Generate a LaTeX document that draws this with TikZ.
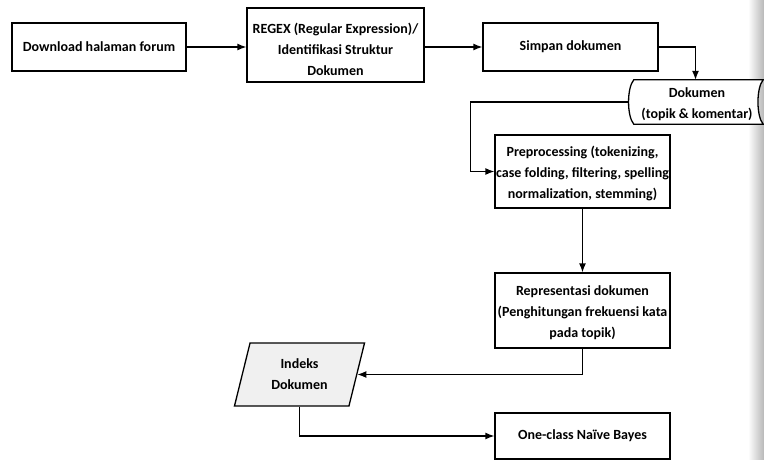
\documentclass[tikz,border=0pt]{standalone}
\usepackage{fontspec}
\setmainfont{Carlito}
\usetikzlibrary{arrows.meta,shapes.geometric,calc}
% a taller first line pushes a centred text block downwards
\newcommand\dropby[1]{\rule{0pt}{#1}}
\begin{document}
\begin{tikzpicture}[x=1pt,y=-1pt,
  every node/.style={font=\bfseries\fontsize{14}{21}\selectfont, align=center, inner sep=0pt},
  procbox/.style={draw, line width=1.3pt, minimum width=175pt},
  flow/.style={line width=1.3pt, -{Latex[length=9pt,width=7pt]}},
  plain/.style={line width=1.3pt}]
\useasboundingbox (0,0) rectangle (764,460);
\fill[white] (0,0) rectangle (764,460);
% scanned page edge on the right
\shade[left color=white, right color=black!28] (748,0) rectangle (764,460);

% process boxes
\node[procbox, minimum width=174pt, minimum height=48pt] (dl) at (99,47) {Download halaman forum};
\node[procbox, minimum width=177pt, minimum height=74pt] (rx) at (335.5,45) {\dropby{18.5pt}REGEX (Regular Expression)/\\Identifikasi Struktur\\Dokumen};
\node[procbox, minimum width=175pt, minimum height=48pt] (sp) at (570.5,47) {Simpan dokumen};
\node[procbox, minimum height=73pt] (pp) at (582.5,171.5) {\dropby{14pt}Preprocessing (tokenizing,\\case folding, filtering, spelling\\normalization, stemming)};
\node[procbox, minimum height=75pt] (rp) at (582.5,310.5) {\dropby{15pt}Representasi dokumen\\(Penghitungan frekuensi kata\\pada topik)};
\node[procbox, minimum height=46pt] (nb) at (582.5,436) {One-class Na\"ive Bayes};

% stored data
\node[minimum width=135pt, minimum height=44pt] (dk) at (695.5,102) {};
\draw[plain, fill=white] ($(dk.north west)+(6,0)$) .. controls ($(dk.north west)+(-1,8)$) and ($(dk.south west)+(-1,-8)$) .. ($(dk.south west)+(6,0)$)
  -- (dk.south east) .. controls ($(dk.south east)+(-7,-8)$) and ($(dk.north east)+(-7,8)$) .. (dk.north east) -- cycle;
\node (dktext) at ($(dk.center)+(1.5,0)$) {\dropby{15pt}Dokumen\\(topik \& komentar)};
\coordinate (dkl) at ($(dk.west)+(0.5,0)$);

% data (parallelogram)
\node[trapezium, trapezium left angle=74, trapezium right angle=106, trapezium stretches=true,
  draw, line width=1.3pt, fill=black!6, minimum width=131pt, minimum height=63pt] (idx) at (299.5,374.5) {Indeks\\Dokumen};

% connectors
\draw[flow] (dl.east) -- (dl.east -| rx.west);
\draw[flow] (rx.east |- sp.west) -- (sp.west);
\draw[flow] (sp.east) -| (dk.north);
\draw[flow] (dkl) -- ++(-158,0) |- (pp.west);
\draw[flow] (pp.south) -- (rp.north);
\draw[flow] (rp.south) |- (idx.east);
\draw[flow] (idx.south) |- (nb.west);
\end{tikzpicture}
\end{document}
